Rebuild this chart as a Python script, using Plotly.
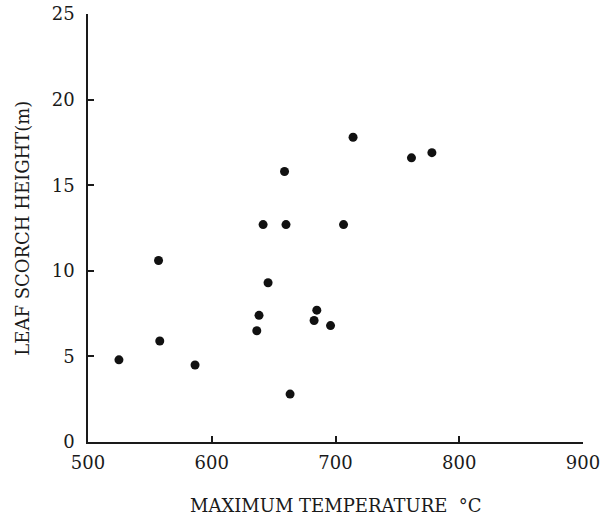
import plotly.graph_objects as go

max_temp_c = [525, 557, 558, 586.5, 636.4, 638.2, 641.5, 645.5, 658.8, 660,
              663.3, 682.7, 684.9, 696, 706.5, 714.2, 761.4, 777.9]
scorch_height_m = [4.8, 10.6, 5.9, 4.5, 6.5, 7.4, 12.7, 9.3, 15.8, 12.7,
                   2.8, 7.1, 7.7, 6.8, 12.7, 17.8, 16.6, 16.9]

x_ticks = [500, 600, 700, 800, 900]
y_ticks = [0, 5, 10, 15, 20, 25]

x_title = "MAXIMUM TEMPERATURE  °C"
y_title = "LEAF SCORCH HEIGHT(m)"

font_family = "DejaVu Serif, Liberation Serif, serif"
ink = "#1a1a1a"

fig = go.Figure()
fig.add_trace(go.Scatter(
    x=max_temp_c, y=scorch_height_m, mode="markers",
    marker=dict(color="#111111", size=9, line=dict(width=0)),
    showlegend=False,
))

fig.update_layout(
    width=604, height=515,
    margin=dict(l=88, r=21, t=14, b=73),
    paper_bgcolor="white", plot_bgcolor="white",
    font=dict(family=font_family, size=18, color=ink),
    xaxis=dict(
        range=[500, 900], tickvals=x_ticks, ticktext=[str(v) for v in x_ticks],
        showgrid=False, zeroline=False, showline=True, linecolor=ink, linewidth=1.5,
        ticks="inside", ticklen=6, tickwidth=1.5, tickcolor=ink,
        ticklabelstandoff=4, automargin=False,
    ),
    yaxis=dict(
        range=[0, 25], tickvals=y_ticks, ticktext=[str(v) for v in y_ticks],
        showgrid=False, zeroline=False, showline=True, linecolor=ink, linewidth=1.5,
        ticks="inside", ticklen=6, tickwidth=1.5, tickcolor=ink,
        ticklabelstandoff=8, automargin=False,
    ),
    annotations=[
        dict(text=x_title, xref="paper", yref="paper", x=0.5, y=-0.149,
             xanchor="center", yanchor="middle", showarrow=False,
             font=dict(size=18, family=font_family, color=ink)),
        dict(text=y_title, xref="paper", yref="paper", x=-0.134, y=0.5,
             xanchor="center", yanchor="middle", showarrow=False, textangle=-90,
             font=dict(size=18, family=font_family, color=ink)),
    ],
)

fig.write_html("out.html")
